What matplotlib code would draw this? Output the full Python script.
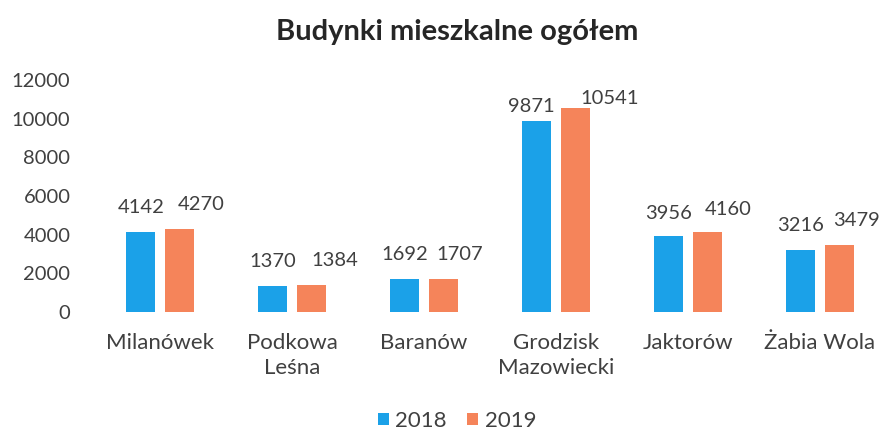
import matplotlib
matplotlib.use("Agg")
import matplotlib.pyplot as plt
import numpy as np

categories = ["Milanówek", "Podkowa\nLeśna", "Baranów", "Grodzisk\nMazowiecki", "Jaktorów", "Żabia Wola"]
series_2018 = [4142, 1370, 1692, 9871, 3956, 3216]
series_2019 = [4270, 1384, 1707, 10541, 4160, 3479]
yticks = [0, 2000, 4000, 6000, 8000, 10000, 12000]

# label placement tweaks (pixels), as in the original where labels were nudged to avoid overlap
dx_2018 = [0, 0, 0, -6, 0, 0]
dy_2018 = [20, 20, 20, 10, 18, 20]
dx_2019 = [22, 24, 17, 34, 21, 17]
dy_2019 = [20, 20, 20, 5, 18, 20]

plt.rcParams['font.family'] = ['Lato', 'DejaVu Sans']

c18 = "#1BA1E8"
c19 = "#F5845A"
txt = "#404040"
fs = 14.5
px = 72 / 100  # points per pixel

fig = plt.figure(figsize=(8.92, 4.32), dpi=100)
ax = fig.add_axes([94/892, 1-312/432, (886-94)/892, (312-80)/432])

x = np.arange(len(categories))
w = 0.22
off = 0.145
b1 = ax.bar(x - off, series_2018, w, color=c18, label="2018")
b2 = ax.bar(x + off, series_2019, w, color=c19, label="2019")

for bars, vals, dxs, dys in ((b1, series_2018, dx_2018, dy_2018), (b2, series_2019, dx_2019, dy_2019)):
    for r, v, dx, dy in zip(bars, vals, dxs, dys):
        ax.annotate(str(v), (r.get_x() + r.get_width()/2, v), xytext=(dx*px, (dy-4)*px),
                    textcoords="offset points", ha="center", va="bottom",
                    fontsize=fs, color=txt)

ax.set_xlim(-0.5, len(categories) - 0.5)
ax.set_ylim(0, 12000)
ax.set_yticks(yticks)
ax.set_yticklabels([str(t) for t in yticks], fontsize=fs, color=txt)
ax.set_xticks(x)
ax.set_xticklabels(categories, fontsize=16, color=txt, linespacing=1.3)
ax.tick_params(axis="both", length=0)
ax.tick_params(axis="y", pad=17)
ax.tick_params(axis="x", pad=15)
for s in ax.spines.values():
    s.set_visible(False)

fig.text(457/892, 1 - 32/432, "Budynki mieszkalne ogółem", ha="center", va="center",
         fontsize=21, fontweight="bold", color="#262626")

fig.legend(handles=[b1, b2], loc="center", bbox_to_anchor=(457/892, 1 - 421/432), ncol=2,
           frameon=False, fontsize=16, handlelength=0.5, handleheight=0.5,
           handletextpad=0.3, columnspacing=0.9, labelcolor=txt)

fig.savefig("out.png", dpi=100, facecolor="white")
